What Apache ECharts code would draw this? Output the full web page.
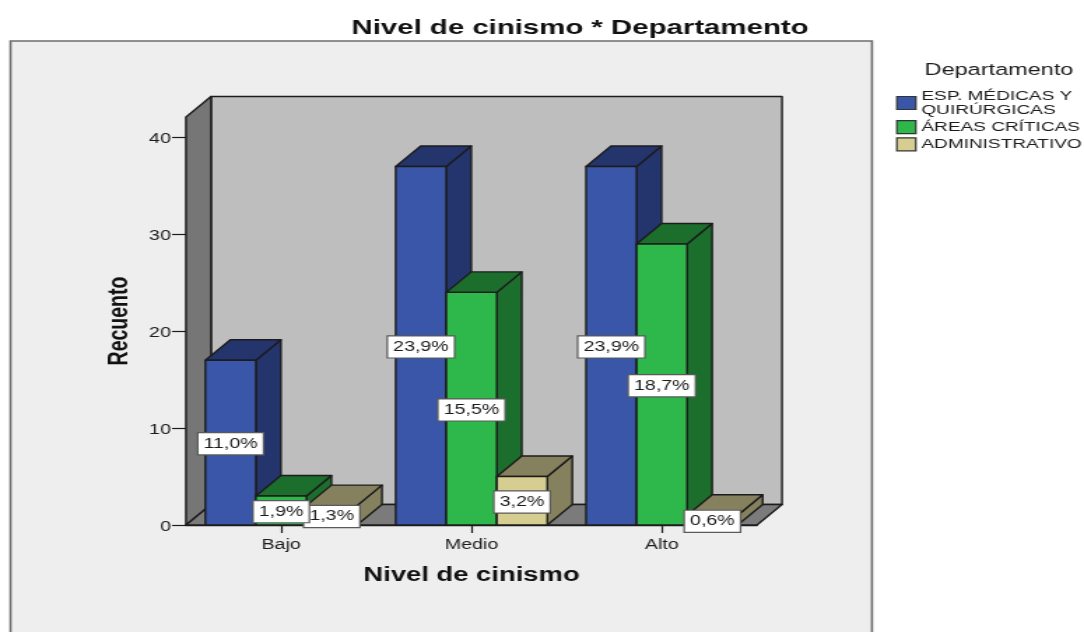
<!DOCTYPE html>
<html lang="es">
<head>
<meta charset="utf-8">
<title>Nivel de cinismo * Departamento</title>
<script src="https://cdn.jsdelivr.net/npm/echarts@6/dist/echarts.min.js"></script>
<style>
html,body{margin:0;padding:0;background:#fff;overflow:hidden;width:1084px;height:632px}
#chart{width:775px;height:632px;transform-origin:0 0;transform:scaleX(1.39871);filter:blur(0.35px)}
</style>
</head>
<body>
<div id="chart"></div>
<script>
const categories = ['Bajo', 'Medio', 'Alto'];
const departments = ['ESP. MÉDICAS Y\nQUIRÚRGICAS', 'ÁREAS CRÍTICAS', 'ADMINISTRATIVO'];
const espValues = [17, 37, 37];
const criticasValues = [3, 24, 29];
const adminValues = [2, 5, 1];
const espLabels = ['11,0%', '23,9%', '23,9%'];
const criticasLabels = ['1,9%', '15,5%', '18,7%'];
const adminLabels = ['1,3%', '3,2%', '0,6%'];
const titleText = 'Nivel de cinismo * Departamento';
const legendTitle = 'Departamento';
const xName = 'Nivel de cinismo';
const yName = 'Recuento';

const SX = 1084 / 775;
const px = v => v / SX;
const DX = px(25), DY = 20.5;
const FONT = '"Liberation Sans", Arial, sans-serif';
const INK = '#1c1c1c';
const BAR_FRACTION = 0.2655;

const palette = [
  { front: '#3a56a8', dark: '#24356e' },
  { front: '#2eb84b', dark: '#1c6e2d' },
  { front: '#d6cd90', dark: '#85805d' }
];

function face(points, fill) {
  return { type: 'polygon', shape: { points }, style: { fill, stroke: INK, lineWidth: 1.4, lineJoin: 'round' } };
}

function renderWalls(params) {
  const c = params.coordSys;
  const l = c.x, r = c.x + c.width, t = c.y, b = c.y + c.height;
  return {
    type: 'group',
    children: [
      face([[l + DX, t - DY], [r + DX, t - DY], [r + DX, b - DY], [l + DX, b - DY]], '#bebebe'),
      face([[l, t], [l + DX, t - DY], [l + DX, b - DY], [l, b]], '#767676'),
      face([[l, b], [l + DX, b - DY], [r + DX, b - DY], [r, b]], '#7b7b7b')
    ]
  };
}

function makeBarRenderer(seriesIndex, labels) {
  return function (params, api) {
    const band = api.size([1, 0])[0];
    const w = band * BAR_FRACTION;
    const top = api.coord([api.value(0), api.value(1)]);
    const base = api.coord([api.value(0), 0]);
    const x0 = top[0] + (seriesIndex - 1) * w - w / 2;
    const x1 = x0 + w;
    const y0 = top[1], y1 = base[1];
    const col = palette[seriesIndex];
    return {
      type: 'group',
      children: [
        face([[x1, y0], [x1 + DX, y0 - DY], [x1 + DX, y1 - DY], [x1, y1]], col.dark),
        face([[x0, y0], [x0 + DX, y0 - DY], [x1 + DX, y0 - DY], [x1, y0]], col.dark),
        face([[x0, y0], [x1, y0], [x1, y1], [x0, y1]], col.front),
        {
          type: 'text',
          z2: 30 - seriesIndex,
          style: {
            x: (x0 + x1) / 2,
            y: (y0 + y1) / 2 + 1.2,
            text: labels[params.dataIndex],
            align: 'center',
            verticalAlign: 'middle',
            fontFamily: FONT,
            fontSize: 14,
            fill: INK,
            backgroundColor: '#ffffff',
            borderColor: '#5a5a5a',
            borderWidth: 1.2,
            padding: [4, 3.6, 3, 3.6]
          }
        }
      ]
    };
  };
}

const seriesValues = [espValues, criticasValues, adminValues];
const seriesLabels = [espLabels, criticasLabels, adminLabels];

const chart = echarts.init(document.getElementById('chart'), null, { renderer: 'canvas' });
chart.setOption({
  animation: false,
  backgroundColor: '#ffffff',
  textStyle: { fontFamily: FONT },
  graphic: [{
    type: 'rect',
    z: -10,
    shape: { x: px(10.5), y: 41, width: px(861.5), height: 640 },
    style: { fill: '#eeeeee', stroke: '#6e6e6e', lineWidth: 1.6 }
  }],
  title: [
    { text: titleText, left: px(580), top: 18, padding: 0, textAlign: 'center',
      textStyle: { fontFamily: FONT, fontSize: 21, fontWeight: 'bold', color: '#111' } },
    { text: legendTitle, left: px(999), top: 62, padding: 0, textAlign: 'center',
      textStyle: { fontFamily: FONT, fontSize: 16.8, fontWeight: 'normal', color: INK } }
  ],
  legend: {
    orient: 'vertical',
    left: px(896),
    top: 89,
    padding: 0,
    itemWidth: px(19),
    itemHeight: 13,
    itemGap: 3,
    selectedMode: false,
    data: departments.map((name, i) => ({
      name,
      icon: 'rect',
      itemStyle: { color: palette[i].front, borderColor: '#333', borderWidth: 1.2 }
    })),
    textStyle: { fontFamily: FONT, fontSize: 13.6, lineHeight: 14, color: INK, padding: [0, 0, 0, -1] }
  },
  grid: { left: px(186), top: 117, width: px(571), height: 408, containLabel: false },
  xAxis: {
    type: 'category',
    data: categories,
    name: xName,
    nameLocation: 'middle',
    nameGap: 41,
    nameTextStyle: { fontFamily: FONT, fontSize: 19.6, fontWeight: 'bold', color: '#111' },
    axisLine: { show: true, lineStyle: { color: INK, width: 1.4 } },
    axisTick: { show: true, alignWithLabel: true, length: 8, lineStyle: { color: INK, width: 1.2 } },
    axisLabel: { fontFamily: FONT, fontSize: 14, color: INK, margin: 13 },
    splitLine: { show: false }
  },
  yAxis: {
    type: 'value',
    min: 0,
    max: 42.1,
    interval: 10,
    name: yName,
    nameLocation: 'middle',
    nameGap: 37,
    nameTextStyle: { fontFamily: FONT, fontSize: 19.5, fontWeight: 'bold', color: '#111' },
    axisLine: { show: true, lineStyle: { color: INK, width: 1.4 } },
    axisTick: { show: true, length: px(14), lineStyle: { color: INK, width: 1.2 } },
    axisLabel: { fontFamily: FONT, fontSize: 14, color: INK, margin: 10.8, verticalAlign: 'top', lineHeight: 4,
      showMaxLabel: false },
    splitLine: { show: false }
  },
  series: [
    { type: 'custom', name: 'walls', silent: true, data: [0], renderItem: renderWalls, clip: false, z: 2 }
  ].concat(departments.map((name, i) => ({
    type: 'custom',
    name,
    silent: true,
    clip: false,
    z: 3,
    color: palette[i].front,
    encode: { x: 0, y: 1 },
    data: categories.map((c, k) => [k, seriesValues[i][k]]),
    renderItem: makeBarRenderer(i, seriesLabels[i])
  })))
});
</script>
</body>
</html>
